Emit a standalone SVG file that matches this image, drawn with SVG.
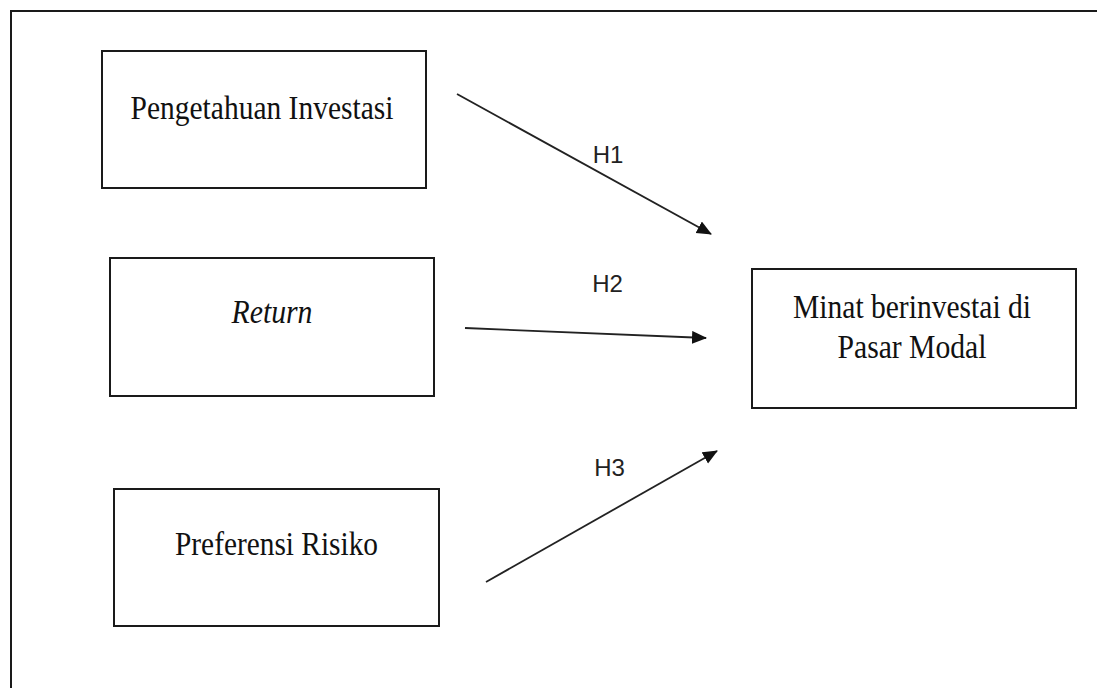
<svg xmlns="http://www.w3.org/2000/svg" width="1097" height="688" viewBox="0 0 1097 688">
<style>
.box{fill:#fff;stroke:#1a1a1a;stroke-width:2}
.serif{font-family:"Liberation Serif","Times New Roman",serif;font-size:33px;fill:#111;text-anchor:middle}
.lbl{font-family:"Liberation Sans",Arial,sans-serif;font-size:24px;fill:#222;text-anchor:middle}
.conn{stroke:#222;stroke-width:1.8;fill:none;marker-end:url(#arr)}
</style>
<defs>
<marker id="arr" markerUnits="userSpaceOnUse" markerWidth="16" markerHeight="14" refX="14" refY="6.5" orient="auto">
<path d="M0,0 L15,6.5 L0,13 Z" fill="#111"/>
</marker>
</defs>
<rect width="1097" height="688" fill="#fff"/>
<path d="M11,688 V11 H1097" fill="none" stroke="#1a1a1a" stroke-width="2"/>
<g id="node-pengetahuan">
<rect class="box" x="102" y="51" width="324" height="137"/>
<text class="serif" x="262" y="119" textLength="263" lengthAdjust="spacingAndGlyphs">Pengetahuan Investasi</text>
</g>
<g id="node-return">
<rect class="box" x="110" y="258" width="324" height="138"/>
<text class="serif" x="272" y="323" font-style="italic" font-size="30" textLength="81" lengthAdjust="spacingAndGlyphs">Return</text>
</g>
<g id="node-preferensi">
<rect class="box" x="114" y="489" width="325" height="137"/>
<text class="serif" x="276.5" y="555" textLength="203" lengthAdjust="spacingAndGlyphs">Preferensi Risiko</text>
</g>
<g id="node-minat">
<rect class="box" x="752" y="269" width="324" height="139"/>
<text class="serif" x="912" y="318" textLength="238" lengthAdjust="spacingAndGlyphs">Minat berinvestai di</text>
<text class="serif" x="912" y="358" textLength="149" lengthAdjust="spacingAndGlyphs">Pasar Modal</text>
</g>
<g id="connectors">
<line class="conn" x1="457" y1="94" x2="711" y2="234"/>
<line class="conn" x1="465" y1="328" x2="706" y2="338"/>
<line class="conn" x1="486" y1="582" x2="717" y2="451"/>
<text class="lbl" x="608" y="163">H1</text>
<text class="lbl" x="607.5" y="292">H2</text>
<text class="lbl" x="609.5" y="476">H3</text>
</g>
</svg>
